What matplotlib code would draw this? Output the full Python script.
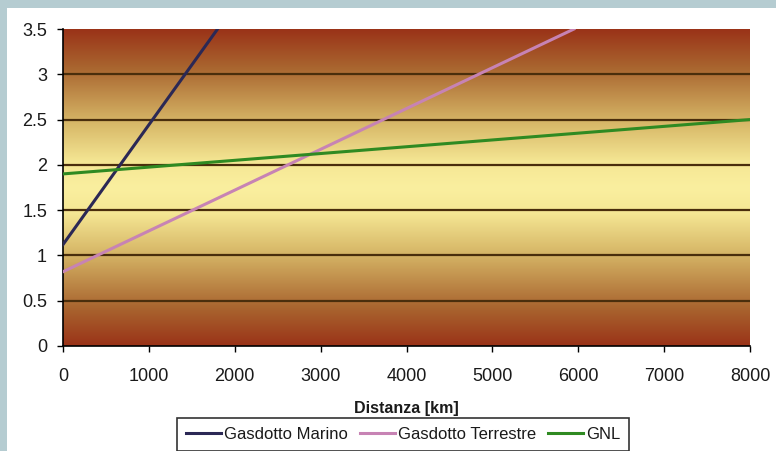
import numpy as np
import matplotlib
matplotlib.use("Agg")
import matplotlib.pyplot as plt
from matplotlib.colors import LinearSegmentedColormap
from matplotlib.patches import Rectangle

plt.rcParams['font.family'] = ['Liberation Sans', 'DejaVu Sans']

# Cost versus transport distance
marino_km = [0, 1800]
marino_cost = [1.12, 3.5]
terrestre_km = [0, 5950]
terrestre_cost = [0.82, 3.5]
gnl_km = [0, 8000]
gnl_cost = [1.9, 2.5]

x_ticks = [0, 1000, 2000, 3000, 4000, 5000, 6000, 7000, 8000]
y_ticks = [0, 0.5, 1, 1.5, 2, 2.5, 3, 3.5]

W, H = 776, 451
fig = plt.figure(figsize=(W / 100, H / 100), dpi=100)
fig.patch.set_facecolor('#b5ccd1')
fig.patches.append(Rectangle((7 / W, 0), 1, 1 - 8 / H, transform=fig.transFigure,
                             facecolor='white', edgecolor='none', zorder=-10))

ax = fig.add_axes([63 / W, 1 - 346 / H, 687 / W, 317 / H])
ax.set_zorder(2)
ax.set_xlim(0, 8000)
ax.set_ylim(0, 3.5)

# Background band gradient: brown at the edges, yellow in the middle
cmap = LinearSegmentedColormap.from_list('band', [
    (0.0, '#9a3318'), (0.12, '#a9652f'), (0.3, '#d8b969'), (0.42, '#f5e794'),
    (0.5, '#faef9f'), (0.58, '#f5e794'), (0.7, '#d8b969'), (0.88, '#a9652f'),
    (1.0, '#9a3318')])
grad = np.linspace(0, 1, 256).reshape(-1, 1)
ax.imshow(grad, cmap=cmap, aspect='auto', extent=[0, 8000, 0, 3.5],
          origin='lower', zorder=0)

for y in y_ticks[1:-1]:
    ax.axhline(y, color='#4a2e0c', lw=1.6, zorder=1)

ax.plot(marino_km, marino_cost, color='#2b2855', lw=2.2, label='Gasdotto Marino', zorder=3)
ax.plot(terrestre_km, terrestre_cost, color='#c783b4', lw=2.2, label='Gasdotto Terrestre', zorder=3)
ax.plot(gnl_km, gnl_cost, color='#2f8a22', lw=2.2, label='GNL', zorder=3)

ax.set_xticks(x_ticks)
ax.set_yticks(y_ticks)
ax.set_yticklabels(['0', '0.5', '1', '1.5', '2', '2.5', '3', '3.5'])
ax.tick_params(axis='both', labelsize=13, labelcolor='#1a1a1a', direction='out',
               length=4.5, width=1, color='black')
ax.tick_params(axis='y', pad=7)
ax.tick_params(axis='x', pad=11)
for s in ['top', 'right']:
    ax.spines[s].set_visible(False)
for s in ['left', 'bottom']:
    ax.spines[s].set_linewidth(1.2)
    ax.spines[s].set_color('black')

fig.text(406 / W, 1 - 408 / H, 'Distanza [km]', fontsize=11.5, fontweight='bold',
         ha='center', va='center', color='#1a1a1a')

handles, labels = ax.get_legend_handles_labels()
leg = fig.legend(handles, labels, loc='upper center',
                 bbox_to_anchor=(403 / W, 1 - 418 / H), ncol=3,
                 fontsize=12, frameon=True, fancybox=False, edgecolor='black',
                 handlelength=2.1, handletextpad=0.2, columnspacing=0.7,
                 borderpad=0.55, borderaxespad=0)
leg.get_frame().set_linewidth(1.2)
for t in leg.get_texts():
    t.set_color('#1a1a1a')

fig.savefig('out.png', dpi=100, facecolor=fig.get_facecolor())
